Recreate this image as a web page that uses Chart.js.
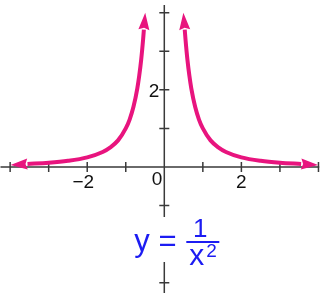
<!DOCTYPE html>
<html><head><meta charset="utf-8">
<script src="https://cdn.jsdelivr.net/npm/chart.js@4"></script>
<style>html,body{margin:0;padding:0;background:#fff;overflow:hidden}#wrap{width:332px;height:293px;position:relative}</style>
</head><body><div id="wrap"><canvas id="c" width="332" height="293"></canvas></div>
<script>
// Curve points (y = 1/x^2), each branch runs between its two arrowheads
const leftX  = [-3.55, -3.0, -2.5, -2.0, -1.6, -1.4, -1.2, -1.0, -0.9, -0.8, -0.7, -0.65, -0.6, -0.55, -0.53];
const leftY  = [0.079, 0.11, 0.16, 0.25, 0.39, 0.51, 0.69, 1.0, 1.23, 1.56, 2.04, 2.37, 2.78, 3.31, 3.56];
const rightX = [0.53, 0.55, 0.6, 0.65, 0.7, 0.8, 0.9, 1.0, 1.2, 1.4, 1.6, 2.0, 2.5, 3.0, 3.55];
const rightY = [3.56, 3.31, 2.78, 2.37, 2.04, 1.56, 1.23, 1.0, 0.69, 0.51, 0.39, 0.25, 0.16, 0.11, 0.079];
// Axes
const xTicks = [-4, -3, -2, -1, 1, 2, 3, 4];
const yTicks = [-3, -2, -1, 1, 2, 3, 4];
const xTickLabels = {"-2": "\u22122", "2": "2"};
const yTickLabels = {"2": "2"};
const originLabel = "0";
const xRange = [-4.263, 4.351];
const yRange = [-3.267, 4.33];
const xAxisEnds = [-4.25, 4.02];
const yAxisEnds = [-3.3, 4.2];
const formulaLeft = "y =";
const formulaNum = "1";
const formulaDen = "x";
const formulaExp = "2";

const PINK = "#e8147e";
const AXIS = "#3a3a3a";
const BLUE = "#1c1cf2";
const FONT = "'Liberation Sans', Arial, sans-serif";

function pts(xs, ys){ return xs.map((x,i)=>({x:x, y:ys[i]})); }

const axesPlugin = {
  id: "axesPlugin",
  beforeDatasetsDraw(chart){
    const ctx = chart.ctx, xs = chart.scales.x, ys = chart.scales.y;
    const x0 = xs.getPixelForValue(0), y0 = ys.getPixelForValue(0);
    ctx.save();
    ctx.strokeStyle = AXIS; ctx.lineWidth = 1.5;
    ctx.beginPath();
    ctx.moveTo(xs.getPixelForValue(xAxisEnds[0]), y0);
    ctx.lineTo(xs.getPixelForValue(xAxisEnds[1]), y0);
    ctx.moveTo(x0, ys.getPixelForValue(yAxisEnds[1]));
    ctx.lineTo(x0, ys.getPixelForValue(yAxisEnds[0]));
    ctx.stroke();
    ctx.beginPath();
    xTicks.forEach(v=>{ const p = xs.getPixelForValue(v); ctx.moveTo(p, y0-5); ctx.lineTo(p, y0+5); });
    yTicks.forEach(v=>{ const p = ys.getPixelForValue(v); ctx.moveTo(x0-5, p); ctx.lineTo(x0+5, p); });
    ctx.stroke();
    ctx.fillStyle = "#111";
    ctx.font = "19px " + FONT;
    ctx.textBaseline = "alphabetic";
    Object.keys(xTickLabels).forEach(k=>{
      const v = parseFloat(k), p = xs.getPixelForValue(v);
      ctx.textAlign = "center";
      const t = xTickLabels[k];
      ctx.fillText(t, t.length > 1 ? p - 4 : p, y0 + 21);
    });
    Object.keys(yTickLabels).forEach(k=>{
      const p = ys.getPixelForValue(parseFloat(k));
      ctx.textAlign = "right";
      ctx.fillText(yTickLabels[k], x0 - 5, p + 7);
    });
    ctx.textAlign = "right";
    ctx.fillText(originLabel, x0 - 2, y0 + 18);
    // formula with white background covering the axis
    ctx.fillStyle = "#fff";
    ctx.fillRect(x0 - 32, y0 + 50, 64, 45);
    ctx.fillStyle = BLUE;
    ctx.textAlign = "left";
    ctx.font = "31px " + FONT;
    ctx.fillText(formulaLeft, x0 - 30, y0 + 84);
    ctx.font = "26px " + FONT;
    ctx.textAlign = "center";
    ctx.fillText(formulaNum, x0 + 36, y0 + 70);
    ctx.fillRect(x0 + 22, y0 + 74, 33, 2);
    ctx.font = "30px " + FONT;
    ctx.textAlign = "left";
    ctx.fillText(formulaDen, x0 + 25, y0 + 98);
    ctx.font = "19px " + FONT;
    ctx.fillText(formulaExp, x0 + 42, y0 + 90);
    ctx.restore();
  }
};

const arrowPlugin = {
  id: "arrowPlugin",
  afterDatasetsDraw(chart){
    const ctx = chart.ctx;
    chart.data.datasets.forEach((ds, i)=>{
      const els = chart.getDatasetMeta(i).data;
      const n = els.length;
      [[els[0], els[1]], [els[n-1], els[n-2]]].forEach(([a, b])=>{
        let dx = a.x - b.x, dy = a.y - b.y; const len = Math.hypot(dx, dy) || 1;
        dx /= len; dy /= len;
        const L = 17, W = 5.5;
        ctx.save();
        ctx.fillStyle = PINK;
        ctx.beginPath();
        ctx.moveTo(a.x + dx*L, a.y + dy*L);
        ctx.lineTo(a.x - dy*W, a.y + dx*W);
        ctx.lineTo(a.x + dx*2, a.y + dy*2);
        ctx.lineTo(a.x + dy*W, a.y - dx*W);
        ctx.closePath();
        ctx.fill();
        ctx.restore();
      });
    });
  }
};

new Chart(document.getElementById("c"), {
  type: "scatter",
  data: { datasets: [
    { data: pts(leftX, leftY) },
    { data: pts(rightX, rightY) }
  ]},
  options: {
    responsive: false, animation: false,
    layout: { padding: 0 },
    elements: {
      line: { borderColor: PINK, borderWidth: 4, cubicInterpolationMode: "monotone", fill: false },
      point: { radius: 0, hoverRadius: 0 }
    },
    datasets: { scatter: { showLine: true, borderColor: PINK, backgroundColor: PINK } },
    scales: {
      x: { type: "linear", min: xRange[0], max: xRange[1], display: false },
      y: { type: "linear", min: yRange[0], max: yRange[1], display: false }
    },
    plugins: { legend: { display: false }, tooltip: { enabled: false } }
  },
  plugins: [axesPlugin, arrowPlugin]
});
</script></body></html>
